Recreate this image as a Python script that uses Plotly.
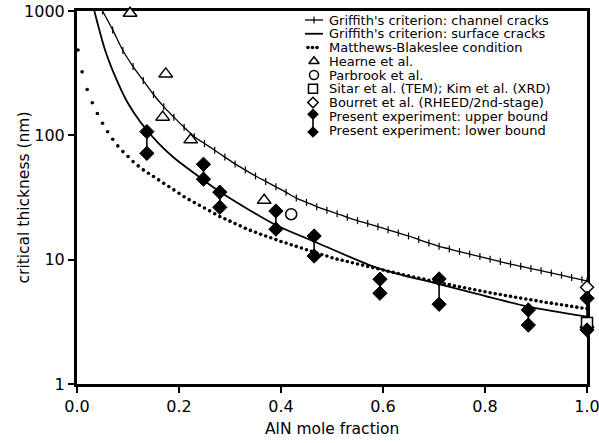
import plotly.graph_objects as go

# ---------------- data ----------------
# Griffith's criterion, channel cracks (one marker every 0.02 in AlN fraction)
channel_x = [0.05, 0.07, 0.09, 0.11, 0.13, 0.15, 0.17, 0.19, 0.21, 0.23, 0.25, 0.27,
             0.29, 0.31, 0.33, 0.35, 0.37, 0.39, 0.41, 0.43, 0.45, 0.47, 0.49, 0.51,
             0.53, 0.55, 0.57, 0.59, 0.61, 0.63, 0.65, 0.67, 0.69, 0.71, 0.73, 0.75,
             0.77, 0.79, 0.81, 0.83, 0.85, 0.87, 0.89, 0.91, 0.93, 0.95, 0.97, 0.99, 1.0]
channel_h = [1000, 705, 481, 357, 276, 213, 170, 140, 116, 97.5, 85.9, 75.8,
             66.8, 58.9, 52.6, 47.1, 42.6, 38.5, 34.8, 31.3, 28.9, 26.7, 25.0, 23.4,
             21.9, 20.6, 19.5, 18.4, 17.4, 16.4, 15.5, 14.5, 13.6, 12.8, 12.2, 11.6,
             11.1, 10.6, 10.1, 9.66, 9.22, 8.85, 8.49, 8.15, 7.82, 7.50, 7.18, 6.89, 6.74]

# Griffith's criterion, surface cracks
surface_x = [0.034, 0.055, 0.075, 0.10, 0.125, 0.16, 0.19, 0.23, 0.28, 0.39, 0.465,
             0.59, 0.71, 0.885, 1.0]
surface_h = [1000, 486, 297, 181, 127, 86, 66, 49.5, 35.2, 19.0, 14.0,
             8.55, 6.35, 4.19, 3.48]

# Matthews-Blakeslee condition (one dot every 0.01)
mb_x = [0.002] + [round(0.01 * k, 2) for k in range(1, 101)]
mb_h = [486, 324, 234, 183, 150, 125, 107, 92.9, 82.2, 74.0, 67.5,
        61.5, 56.8, 52.7, 49.5, 46.6, 43.8, 41.1, 38.7, 36.4, 34.2,
        32.1, 30.4, 28.8, 27.4, 26.0, 24.7, 23.4, 22.2, 21.3, 20.4,
        19.5, 18.7, 17.9, 17.2, 16.6, 16.0, 15.5, 15.0, 14.5, 14.0,
        13.6, 13.2, 12.8, 12.4, 12.0, 11.7, 11.3, 11.0, 10.7, 10.35,
        10.1, 9.89, 9.66, 9.44, 9.23, 9.04, 8.83, 8.63, 8.45, 8.26,
        8.07, 7.91, 7.73, 7.57, 7.41, 7.26, 7.11, 6.97, 6.82, 6.68,
        6.55, 6.41, 6.30, 6.17, 6.05, 5.94, 5.83, 5.73, 5.62, 5.52,
        5.42, 5.33, 5.24, 5.15, 5.07, 4.99, 4.91, 4.83, 4.75, 4.68,
        4.60, 4.53, 4.47, 4.40, 4.34, 4.27, 4.21, 4.15, 4.09, 4.04]

# Literature data
hearne_x = [0.104, 0.174, 0.168, 0.223, 0.367, 1.0]
hearne_h = [960, 312, 140, 92, 30, 3.0]
parbrook_x = [0.42, 1.0]
parbrook_h = [23.2, 2.9]
sitar_x = [1.0]
sitar_h = [3.1]
bourret_x = [1.0]
bourret_h = [6.0]

# Present experiment
exp_x = [0.137, 0.248, 0.280, 0.39, 0.465, 0.594, 0.710, 0.885, 1.0]
exp_upper = [107, 58.5, 34.9, 24.6, 15.5, 6.96, 7.0, 3.94, 4.89]
exp_lower = [71.6, 44.4, 26.4, 17.6, 10.7, 5.37, 4.38, 2.98, 2.72]

x_ticks = [0.0, 0.2, 0.4, 0.6, 0.8, 1.0]
y_ticks = [1, 10, 100, 1000]

legend_labels = [
    "Griffith's criterion: channel cracks",
    "Griffith's criterion: surface cracks",
    "Matthews-Blakeslee condition",
    "Hearne et al.",
    "Parbrook et al.",
    "Sitar et al. (TEM); Kim et al. (XRD)",
    "Bourret et al. (RHEED/2nd-stage)",
    "Present experiment: upper bound",
    "Present experiment: lower bound",
]

# ---------------- layout constants ----------------
W, H = 599, 443
ML, MR, MT, MB = 77, 12, 11, 59
PW, PH = W - ML - MR, H - MT - MB
FONT = "DejaVu Sans"
BLACK = "#000000"


def px_x(p):
    return (p - ML) / PW


def px_y(p):
    return 1 - (p - MT) / PH


fig = go.Figure()

# curves
fig.add_trace(go.Scatter(x=mb_x, y=mb_h, mode="markers",
                         marker=dict(symbol="circle", size=3.6, color=BLACK),
                         cliponaxis=False, showlegend=False))
fig.add_trace(go.Scatter(x=surface_x, y=surface_h, mode="lines",
                         line=dict(color=BLACK, width=1.8, shape="spline", smoothing=0.8),
                         showlegend=False))
fig.add_trace(go.Scatter(x=channel_x, y=channel_h, mode="lines+markers",
                         line=dict(color=BLACK, width=1.3, shape="spline", smoothing=0.8),
                         marker=dict(symbol="line-ns", size=5,
                                     line=dict(color=BLACK, width=1.2)),
                         showlegend=False))

# vertical bars joining upper and lower bounds
bar_x, bar_y = [], []
for xv, up, lo in zip(exp_x, exp_upper, exp_lower):
    bar_x += [xv, xv, None]
    bar_y += [up, lo, None]
fig.add_trace(go.Scatter(x=bar_x, y=bar_y, mode="lines",
                         line=dict(color=BLACK, width=1.6),
                         cliponaxis=False, showlegend=False))

open_style = dict(color="white", line=dict(color=BLACK, width=1.5))
fig.add_trace(go.Scatter(x=hearne_x, y=hearne_h, mode="markers",
                         marker=dict(symbol="triangle-up", size=12, **open_style),
                         cliponaxis=False, showlegend=False))
fig.add_trace(go.Scatter(x=parbrook_x, y=parbrook_h, mode="markers",
                         marker=dict(symbol="circle", size=11, **open_style),
                         cliponaxis=False, showlegend=False))
fig.add_trace(go.Scatter(x=sitar_x, y=sitar_h, mode="markers",
                         marker=dict(symbol="square", size=11, **open_style),
                         cliponaxis=False, showlegend=False))
fig.add_trace(go.Scatter(x=bourret_x, y=bourret_h, mode="markers",
                         marker=dict(symbol="diamond", size=10, **open_style),
                         cliponaxis=False, showlegend=False))
fig.add_trace(go.Scatter(x=exp_x + exp_x, y=exp_upper + exp_lower, mode="markers",
                         marker=dict(symbol="diamond", size=11, color=BLACK,
                                     line=dict(color=BLACK, width=1)),
                         cliponaxis=False, showlegend=False))

# ---------------- hand-built legend ----------------
LEG_ROW0, LEG_STEP = 20, 13.75
LEG_SYM_X, LEG_LINE0, LEG_LINE1, LEG_TEXT_X = 314, 305, 323, 327
rows = [LEG_ROW0 + LEG_STEP * i for i in range(len(legend_labels))]

shapes = []
for r in rows[:2]:
    shapes.append(dict(type="line", xref="paper", yref="paper",
                       x0=px_x(LEG_LINE0), x1=px_x(LEG_LINE1),
                       y0=px_y(r), y1=px_y(r),
                       line=dict(color=BLACK, width=1.3 if r == rows[0] else 1.8)))
shapes.append(dict(type="line", xref="paper", yref="paper",
                   x0=px_x(LEG_SYM_X - 1), x1=px_x(LEG_SYM_X - 1),
                   y0=px_y(rows[7] - 2), y1=px_y(rows[8] + 2),
                   line=dict(color=BLACK, width=1.6)))

leg_axes = dict(xaxis="x2", yaxis="y2", cliponaxis=False, showlegend=False,
                hoverinfo="skip")
fig.add_trace(go.Scatter(x=[px_x(LEG_SYM_X)], y=[px_y(rows[0])], mode="markers",
                         marker=dict(symbol="line-ns", size=5,
                                     line=dict(color=BLACK, width=1.2)), **leg_axes))
fig.add_trace(go.Scatter(x=[px_x(308), px_x(312.5), px_x(317)],
                         y=[px_y(rows[2])] * 3, mode="markers",
                         marker=dict(symbol="circle", size=3.6, color=BLACK), **leg_axes))
fig.add_trace(go.Scatter(x=[px_x(LEG_SYM_X)], y=[px_y(rows[3])], mode="markers",
                         marker=dict(symbol="triangle-up", size=9, **open_style), **leg_axes))
fig.add_trace(go.Scatter(x=[px_x(LEG_SYM_X)], y=[px_y(rows[4])], mode="markers",
                         marker=dict(symbol="circle", size=9, **open_style), **leg_axes))
fig.add_trace(go.Scatter(x=[px_x(LEG_SYM_X - 1)], y=[px_y(rows[5])], mode="markers",
                         marker=dict(symbol="square", size=9, **open_style), **leg_axes))
fig.add_trace(go.Scatter(x=[px_x(LEG_SYM_X - 1)], y=[px_y(rows[6])], mode="markers",
                         marker=dict(symbol="diamond", size=8, **open_style), **leg_axes))
fig.add_trace(go.Scatter(x=[px_x(LEG_SYM_X - 1)] * 2,
                         y=[px_y(rows[7] - 2), px_y(rows[8] + 2)], mode="markers",
                         marker=dict(symbol="diamond", size=9, color=BLACK), **leg_axes))

annotations = []
for r, label in zip(rows, legend_labels):
    annotations.append(dict(text=label, xref="paper", yref="paper",
                            x=px_x(LEG_TEXT_X), y=px_y(r), xanchor="left",
                            yanchor="middle", showarrow=False,
                            font=dict(family=FONT, size=13, color=BLACK)))

# axis titles
annotations.append(dict(text="AlN mole fraction", xref="paper", yref="paper",
                        x=0.5, y=0, yshift=-45, xanchor="center", yanchor="middle",
                        showarrow=False, font=dict(family=FONT, size=15.5, color=BLACK)))
annotations.append(dict(text="critical thickness (nm)", xref="paper", yref="paper",
                        x=0, y=0.5, xshift=-54, xanchor="center", yanchor="middle",
                        textangle=-90, showarrow=False,
                        font=dict(family=FONT, size=15.5, color=BLACK)))

axis_common = dict(showline=True, linecolor=BLACK, linewidth=3, mirror=True,
                   ticks="outside", ticklen=6, tickwidth=2, tickcolor=BLACK,
                   showgrid=False, zeroline=False, layer="below traces",
                   ticklabeloverflow="allow",
                   tickfont=dict(family=FONT, size=16, color=BLACK))

fig.update_layout(
    width=W, height=H,
    margin=dict(l=ML, r=MR, t=MT, b=MB, autoexpand=False),
    paper_bgcolor="white", plot_bgcolor="white",
    showlegend=False,
    xaxis=dict(range=[0, 1], tickvals=x_ticks,
               ticktext=[f"{v:.1f}" for v in x_ticks], **axis_common),
    yaxis=dict(type="log", range=[0, 3], tickvals=y_ticks,
               ticktext=[str(v) for v in y_ticks], **axis_common),
    xaxis2=dict(domain=[0, 1], range=[0, 1], overlaying="x", visible=False,
                fixedrange=True),
    yaxis2=dict(domain=[0, 1], range=[0, 1], overlaying="y", visible=False,
                fixedrange=True),
    shapes=shapes,
    annotations=annotations,
)

fig.write_html("out.html")
